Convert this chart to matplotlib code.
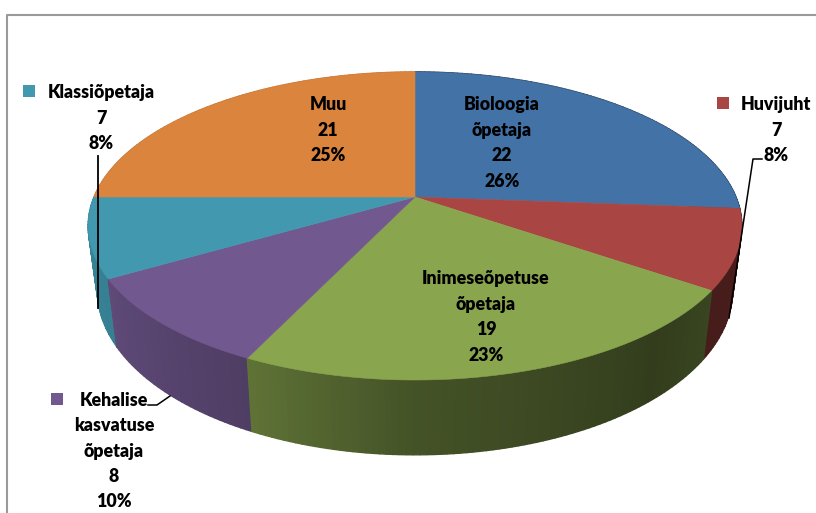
import numpy as np
import matplotlib
matplotlib.use('Agg')
import matplotlib.pyplot as plt
from matplotlib.colors import to_rgb

names = ['Bioloogia\nõpetaja', 'Huvijuht', 'Inimeseõpetuse\nõpetaja',
         'Kehalise\nkasvatuse\nõpetaja', 'Klassiõpetaja', 'Muu']
values = [22, 7, 19, 8, 7, 21]
colors = ['#4272A6', '#A94543', '#89A54E', '#71588F', '#4198AF', '#DB843D']

# where each label sits, in pixels
label_x = [502, 776, 486, 114, 101, 328]
label_y = [143, 130, 317, 451, 118, 130]

# side wall brightness against angle (clockwise from 12 o'clock)
shade_deg = [0, 94, 124, 140, 180, 206, 240, 270, 360]
shade_val = [.45, .43, .42, .37, .50, .70, .84, .88, .88]

plt.rcParams['font.family'] = ['Lato', 'DejaVu Sans']
fig = plt.figure(figsize=(8.16, 5.13), dpi=100)
ax = fig.add_axes([0, 0, 1, 1])
ax.set_xlim(0, 816)
ax.set_ylim(513, 0)
ax.axis('off')

cx = 415
persp = 0.188


def project(deg, rx, ry, cy):
    t = np.radians(deg)
    u, v = np.sin(t), -np.cos(t)
    s = 1 / (1 - persp * v)
    return cx + rx * u * s, cy + ry * v * s


def top(deg):
    return project(deg, 321, 148.6, 197)


def bottom(deg):
    return project(deg, 312, 159, 259)


edges = np.concatenate([[0], np.cumsum(values)]) * 360 / sum(values)

# side wall, back to front
segs = []
for i, col in enumerate(colors):
    steps = np.arange(edges[i], edges[i + 1], 1.0)
    for a in steps:
        b = min(a + 1, edges[i + 1])
        segs.append((a, b, col))
segs.sort(key=lambda s: -np.cos(np.radians(s[0] + .5)))
for a, b, col in segs:
    k = np.interp((a + b) / 2, shade_deg, shade_val)
    rgb = np.array(to_rgb(col)) * k
    xa, ya = top(a)
    xb, yb = top(b)
    xc, yc = bottom(b)
    xd, yd = bottom(a)
    ax.fill([xa, xb, xc, xd], [ya, yb, yc, yd], color=rgb, lw=1.0, zorder=2)

# top face
for i, col in enumerate(colors):
    deg = np.linspace(edges[i], edges[i + 1], 80)
    xs, ys = top(deg)
    ax.fill(np.r_[cx, xs], np.r_[197, ys], color=col, lw=0.4, zorder=3)

# chart border, only top and left are in the crop
ax.plot([7, 7, 816], [513, 15, 15], color='#9a9a9a', lw=1.5, zorder=1)

# leader lines
ax.plot([98, 98], [156, 308], color='black', lw=1.3, zorder=4)
ax.plot([762, 753, 729], [159, 159, 318], color='black', lw=1.1, zorder=4)
ax.plot([148, 157, 170], [405, 405, 396], color='black', lw=1.1, zorder=4)

# legend keys of the outside labels
for x, y, col in [(28.5, 91, colors[4]), (722.5, 102.5, colors[1]), (56.5, 398.5, colors[3])]:
    ax.scatter([x], [y], marker='s', s=85, color=col, lw=0, zorder=4)

total = sum(values)
for i in range(len(names)):
    pct = round(100 * values[i] / total)
    txt = '%s\n%d\n%d%%' % (names[i], values[i], pct)
    ax.text(label_x[i], label_y[i], txt, ha='center', va='center', fontsize=12.8,
            fontweight='heavy', color='black', linespacing=1.6, zorder=5)

fig.savefig('out.png', dpi=100)
